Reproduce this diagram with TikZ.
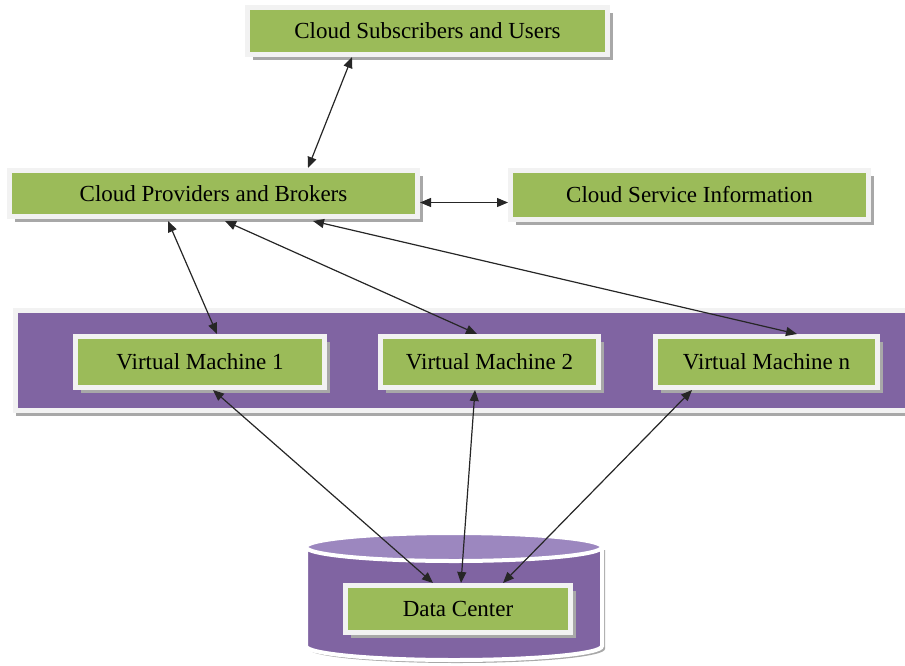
\documentclass[tikz,border=0pt]{standalone}
\usepackage{fontspec}
\setmainfont{Liberation Serif}
\newfontfamily\boxfont{Liberation Serif}
\usetikzlibrary{shadows,arrows.meta,calc}
\definecolor{boxgreen}{HTML}{9BBB59}
\definecolor{boxborder}{HTML}{F2F2F2}
\definecolor{bandpurple}{HTML}{8064A2}
\definecolor{toppurple}{HTML}{9C87BF}
\definecolor{shadowgray}{HTML}{A8A8A8}
\begin{document}
\begin{tikzpicture}[x=1pt,y=-1pt,
  box/.style={draw=boxborder,line width=5pt,fill=boxgreen,inner sep=0pt,
    font=\boxfont\fontsize{23}{27}\selectfont,text=black,
    drop shadow={shadow xshift=5.5pt,shadow yshift=-5.5pt,fill=shadowgray,opacity=1}},
  link/.style={{Triangle[length=11pt,width=9pt]}-{Triangle[length=11pt,width=9pt]},line width=1.2pt,black!85}]
\useasboundingbox (0,0) rectangle (905,665);

% data center cylinder
\fill[shadowgray] (309,550) -- (309,649) arc[start angle=180,end angle=360,x radius=148pt,y radius=14pt] -- (605,550) -- cycle;
\draw[draw=white,line width=4pt,fill=bandpurple]
  (306,547) -- (306,646) arc[start angle=180,end angle=360,x radius=148pt,y radius=14pt]
  -- (602,547) arc[start angle=0,end angle=180,x radius=148pt,y radius=14pt] -- cycle;
\draw[draw=white,line width=4pt,fill=toppurple] (454,547) ellipse[x radius=148pt,y radius=14pt];

% virtual machine band
\draw[draw=boxborder,line width=5pt,fill=bandpurple,
  drop shadow={shadow xshift=0pt,shadow yshift=-5.5pt,fill=shadowgray,opacity=1}]
  (15.5,310.5) rectangle (915,410.5);

\node[box,minimum width=360pt,minimum height=47pt] (subs) at (427.5,31) {Cloud Subscribers and Users};
\node[box,minimum width=408pt,minimum height=46pt] (prov) at (213.5,193.5) {Cloud Providers and Brokers};
\node[box,minimum width=358pt,minimum height=49pt] (info) at (689.5,195) {Cloud Service Information};
\node[box,minimum width=249pt,minimum height=51pt] (vm1) at (200,362) {Virtual Machine 1};
\node[box,minimum width=218pt,minimum height=51pt] (vm2) at (489.5,362) {Virtual Machine 2};
\node[box,minimum width=222pt,minimum height=51pt] (vmn) at (766.5,362) {Virtual Machine n};
\node[box,minimum width=225pt,minimum height=47pt] (dc) at (458,609) {Data Center};

\draw[link] ([xshift=-75.5pt]subs.south) -- ([xshift=94.5pt]prov.north);
\draw[link] ([yshift=-9pt]prov.east) -- ([yshift=-9pt]prov.east -| info.west);
\draw[link] ([xshift=-45.5pt,yshift=-2pt]prov.south) -- ([xshift=17pt]vm1.north);
\draw[link] ([xshift=11.5pt,yshift=-2pt]prov.south) -- ([xshift=-12.5pt]vm2.north);
\draw[link] ([xshift=99.5pt,yshift=-2pt]prov.south) -- ([xshift=30.5pt]vmn.north);
\draw[link] ([xshift=13pt]vm1.south) -- ([xshift=-25pt]dc.north);
\draw[link] ([xshift=-14.5pt]vm2.south) -- ([xshift=3pt]dc.north);
\draw[link] ([xshift=-74.5pt]vmn.south) -- ([xshift=45pt]dc.north);
\end{tikzpicture}
\end{document}
